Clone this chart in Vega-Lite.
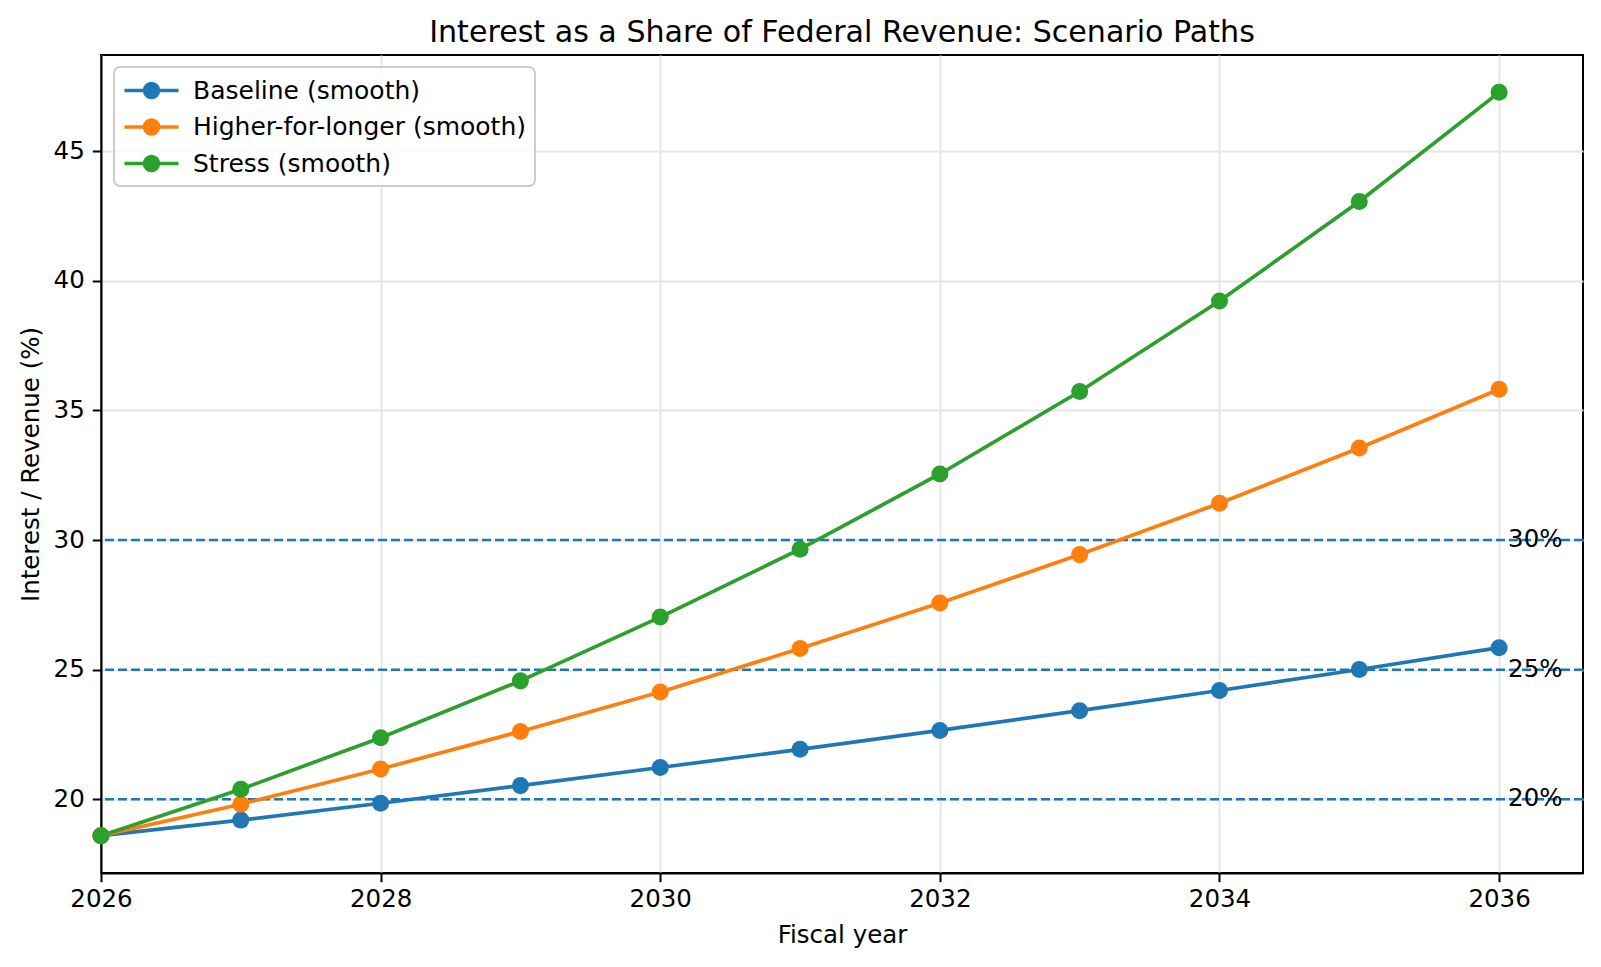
{
  "$schema": "https://vega.github.io/schema/vega-lite/v6.json",
  "width": 1482,
  "height": 818,
  "autosize": "none",
  "padding": {"left": 101, "top": 55, "right": 18, "bottom": 94},
  "background": "white",
  "config": {
    "font": "DejaVu Sans",
    "view": {"stroke": "black", "strokeWidth": 2},
    "axis": {
      "labelFont": "DejaVu Sans",
      "titleFont": "DejaVu Sans",
      "labelFontSize": 24.5,
      "titleFontSize": 24.5,
      "titleFontWeight": "normal",
      "labelColor": "black",
      "titleColor": "black",
      "domainColor": "black",
      "domainWidth": 2,
      "tickColor": "black",
      "tickWidth": 2,
      "tickSize": 8.7,
      "labelPadding": 6,
      "labelFlush": false,
      "grid": true,
      "gridColor": "#e6e6e6",
      "gridWidth": 2
    },
    "legend": {
      "labelFont": "DejaVu Sans",
      "labelFontSize": 25,
      "labelColor": "black"
    },
    "title": {"font": "DejaVu Sans", "fontSize": 30.1, "fontWeight": "normal", "color": "black"}
  },
  "title": {"text": "Interest as a Share of Federal Revenue: Scenario Paths", "anchor": "middle", "baseline": "alphabetic", "offset": 13, "dy": 30},
  "datasets": {
    "series": [
      {"year": 2026, "scenario": "Baseline (smooth)", "value": 18.6},
      {"year": 2027, "scenario": "Baseline (smooth)", "value": 19.2},
      {"year": 2028, "scenario": "Baseline (smooth)", "value": 19.85},
      {"year": 2029, "scenario": "Baseline (smooth)", "value": 20.53},
      {"year": 2030, "scenario": "Baseline (smooth)", "value": 21.23},
      {"year": 2031, "scenario": "Baseline (smooth)", "value": 21.93},
      {"year": 2032, "scenario": "Baseline (smooth)", "value": 22.66},
      {"year": 2033, "scenario": "Baseline (smooth)", "value": 23.42},
      {"year": 2034, "scenario": "Baseline (smooth)", "value": 24.2},
      {"year": 2035, "scenario": "Baseline (smooth)", "value": 25.01},
      {"year": 2036, "scenario": "Baseline (smooth)", "value": 25.85},
      {"year": 2026, "scenario": "Higher-for-longer (smooth)", "value": 18.6},
      {"year": 2027, "scenario": "Higher-for-longer (smooth)", "value": 19.81},
      {"year": 2028, "scenario": "Higher-for-longer (smooth)", "value": 21.17},
      {"year": 2029, "scenario": "Higher-for-longer (smooth)", "value": 22.62},
      {"year": 2030, "scenario": "Higher-for-longer (smooth)", "value": 24.14},
      {"year": 2031, "scenario": "Higher-for-longer (smooth)", "value": 25.82},
      {"year": 2032, "scenario": "Higher-for-longer (smooth)", "value": 27.57},
      {"year": 2033, "scenario": "Higher-for-longer (smooth)", "value": 29.44},
      {"year": 2034, "scenario": "Higher-for-longer (smooth)", "value": 31.42},
      {"year": 2035, "scenario": "Higher-for-longer (smooth)", "value": 33.55},
      {"year": 2036, "scenario": "Higher-for-longer (smooth)", "value": 35.82},
      {"year": 2026, "scenario": "Stress (smooth)", "value": 18.6},
      {"year": 2027, "scenario": "Stress (smooth)", "value": 20.39},
      {"year": 2028, "scenario": "Stress (smooth)", "value": 22.38},
      {"year": 2029, "scenario": "Stress (smooth)", "value": 24.57},
      {"year": 2030, "scenario": "Stress (smooth)", "value": 27.03},
      {"year": 2031, "scenario": "Stress (smooth)", "value": 29.65},
      {"year": 2032, "scenario": "Stress (smooth)", "value": 32.55},
      {"year": 2033, "scenario": "Stress (smooth)", "value": 35.73},
      {"year": 2034, "scenario": "Stress (smooth)", "value": 39.22},
      {"year": 2035, "scenario": "Stress (smooth)", "value": 43.06},
      {"year": 2036, "scenario": "Stress (smooth)", "value": 47.27}
    ],
    "thresholds": [
      {"level": 20, "label": "20%", "year": 2036},
      {"level": 25, "label": "25%", "year": 2036},
      {"level": 30, "label": "30%", "year": 2036}
    ]
  },
  "layer": [
    {
      "data": {"name": "thresholds"},
      "mark": {"type": "rule", "color": "#1f77b4", "strokeWidth": 2.5, "strokeDash": [9, 4]},
      "encoding": {
        "y": {"field": "level", "type": "quantitative", "scale": {"domain": [17.16, 48.71], "nice": false, "zero": false}}
      }
    },
    {
      "data": {"name": "thresholds"},
      "mark": {"type": "text", "align": "left", "baseline": "middle", "dx": 9, "fontSize": 24.5, "font": "DejaVu Sans", "color": "black"},
      "encoding": {
        "x": {"field": "year", "type": "quantitative"},
        "y": {"field": "level", "type": "quantitative"},
        "text": {"field": "label", "type": "nominal"}
      }
    },
    {
      "data": {"name": "series"},
      "mark": {"type": "line", "strokeWidth": 3.7},
      "encoding": {
        "x": {"field": "year", "type": "quantitative", "title": "Fiscal year",
              "scale": {"domain": [2026, 2036.6], "nice": false, "zero": false},
              "axis": {"values": [2026, 2028, 2030, 2032, 2034, 2036], "format": "d", "titlePadding": 12}},
        "y": {"field": "value", "type": "quantitative", "title": "Interest / Revenue (%)",
              "axis": {"values": [20, 25, 30, 35, 40, 45], "titlePadding": 10, "labelPadding": 8}},
        "color": {
          "field": "scenario", "type": "nominal",
          "scale": {"domain": ["Baseline (smooth)", "Higher-for-longer (smooth)", "Stress (smooth)"], "range": ["#1f77b4", "#ff7f0e", "#2ca02c"]},
          "legend": {
            "title": null,
            "orient": "none",
            "legendX": 13,
            "legendY": 12,
            "symbolType": "M -2.04 0 L 2.04 0 M 0.52 0 A 0.52 0.52 0 1 1 -0.52 0 A 0.52 0.52 0 1 1 0.52 0 Z",
            "symbolSize": 702,
            "symbolStrokeWidth": 3.7,
            "symbolOffset": 14,
            "labelOffset": 26,
            "rowPadding": 6.5,
            "padding": 8,
            "fillColor": "rgba(255,255,255,0.8)",
            "strokeColor": "#cccccc",
            "cornerRadius": 6,
            "labelLimit": 0,
            "encode": {
              "legend": {"update": {"strokeWidth": {"value": 2}}},
              "symbols": {
                "update": {
                  "fill": {"scale": "color", "field": "value"},
                  "stroke": {"scale": "color", "field": "value"},
                  "opacity": {"value": 1}
                }
              }
            }
          }
        }
      }
    },
    {
      "data": {"name": "series"},
      "mark": {"type": "point", "filled": true, "size": 290, "opacity": 1},
      "encoding": {
        "x": {"field": "year", "type": "quantitative"},
        "y": {"field": "value", "type": "quantitative"},
        "color": {"field": "scenario", "type": "nominal"}
      }
    }
  ]
}
